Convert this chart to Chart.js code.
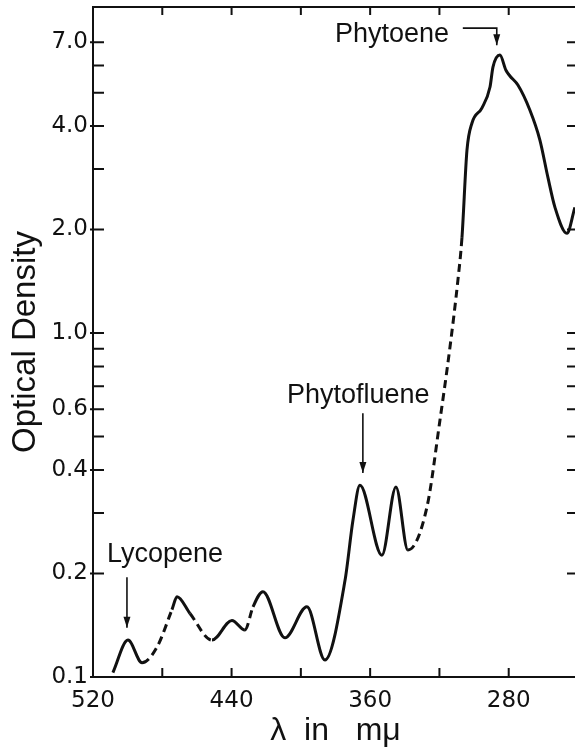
<!DOCTYPE html>
<html lang="en">
<head>
<meta charset="UTF-8">
<title>Optical Density</title>
<script src="https://cdn.jsdelivr.net/npm/chart.js"></script>
<style>
  html, body { margin: 0; padding: 0; background: #fff; }
  #wrap { width: 575px; height: 747px; overflow: hidden; }
</style>
</head>
<body>
<div id="wrap"><canvas id="spectrum" width="582" height="747"></canvas></div>
<script>
// absorption trace (wavelength in mμ, optical density)
const wavelengths = [508.5, 499.8, 491.7, 483.1, 474.4, 471.5, 464.0, 451.3, 439.8, 432.3,
  427.6, 421.9, 409.2, 396.5, 386.1, 374.5, 369.9, 365.9, 353.2, 345.1,
  338.2, 327.2, 319.7, 313.9, 309.3, 307.0, 304.1, 301.2, 295.5, 290.8,
  289.1, 285.1, 281.6, 279.3, 274.7, 267.8, 262.0, 257.4, 253.3, 246.4, 241.8];
const density = [0.103, 0.128, 0.110, 0.122, 0.157, 0.171, 0.153, 0.128, 0.146, 0.137,
  0.160, 0.177, 0.130, 0.160, 0.112, 0.191, 0.286, 0.361, 0.226, 0.357,
  0.234, 0.312, 0.558, 0.911, 1.43, 1.89, 3.40, 4.08, 4.51, 5.19,
  5.93, 6.43, 5.81, 5.59, 5.26, 4.45, 3.64, 2.84, 2.32, 1.95, 2.32];

const xTicks = [520, 480, 440, 400, 360, 320, 280, 240];
const xLabeled = [520, 440, 360, 280];
const yTicks = [0.1, 0.2, 0.3, 0.4, 0.5, 0.6, 0.7, 0.8, 0.9, 1, 2, 3, 4, 5, 6, 7];
const yLabeled = [0.1, 0.2, 0.4, 0.6, 1, 2, 4, 7];

// parts of the trace drawn dashed (from, to in mμ)
const dashedRanges = [[491.7, 474.4], [464.0, 451.3], [432.3, 427.6], [338.2, 307.0]];

const ink = '#111';

// labels and arrows, placed in data coordinates
const notes = [
  { label: 'Lycopene', at: [511.9, 0.216], path: [[500.4, 0.195], [500.4, 0.139]] },
  { label: 'Phytofluene', at: [408.0, 0.626], path: [[364.2, 0.585], [364.2, 0.392]] },
  { label: 'Phytoene', at: [380.3, 7.02], path: [[306.5, 7.70], [286.9, 7.70], [286.9, 6.87]] }
];

function isDashed(i0, i1) {
  const mid = (wavelengths[i0] + wavelengths[i1]) / 2;
  return dashedRanges.some(([a, b]) => mid <= a && mid >= b);
}

const marks = {
  id: 'marks',
  afterDatasetsDraw(chart) {
    const { ctx, chartArea: a, scales: { x, y } } = chart;
    ctx.save();
    ctx.strokeStyle = ink;
    ctx.fillStyle = ink;
    ctx.lineWidth = 2;
    ctx.strokeRect(a.left, a.top, a.right - a.left, a.bottom - a.top);

    ctx.beginPath();
    xTicks.forEach(v => {
      const px = x.getPixelForValue(v);
      ctx.moveTo(px, a.bottom); ctx.lineTo(px, a.bottom - 9);
      ctx.moveTo(px, a.top); ctx.lineTo(px, a.top + 8);
    });
    yTicks.forEach(v => {
      const py = y.getPixelForValue(v);
      const out = yLabeled.includes(v) ? 3 : 0;
      ctx.moveTo(a.left - out, py); ctx.lineTo(a.left + 11, py);
      ctx.moveTo(a.right, py); ctx.lineTo(a.right - 11, py);
    });
    ctx.stroke();

    ctx.font = '27px "Liberation Sans"';
    ctx.textBaseline = 'alphabetic';
    ctx.textAlign = 'left';
    ctx.lineWidth = 1.6;
    notes.forEach(n => {
      ctx.fillText(n.label, x.getPixelForValue(n.at[0]), y.getPixelForValue(n.at[1]));
      const pts = n.path.map(p => [x.getPixelForValue(p[0]), y.getPixelForValue(p[1])]);
      ctx.beginPath();
      pts.forEach((p, i) => i ? ctx.lineTo(p[0], p[1]) : ctx.moveTo(p[0], p[1]));
      ctx.stroke();
      const [p0, p1] = pts.slice(-2);
      const ang = Math.atan2(p1[1] - p0[1], p1[0] - p0[0]);
      ctx.save();
      ctx.translate(p1[0], p1[1]);
      ctx.rotate(ang);
      ctx.beginPath();
      ctx.moveTo(0, 0); ctx.lineTo(-11, -3.5); ctx.lineTo(-11, 3.5); ctx.closePath();
      ctx.fill();
      ctx.restore();
    });
    ctx.restore();
  }
};

new Chart(document.getElementById('spectrum'), {
  type: 'line',
  data: {
    datasets: [{
      data: wavelengths.map((w, i) => ({ x: w, y: density[i] })),
      borderColor: ink,
      borderWidth: 3,
      pointRadius: 0,
      cubicInterpolationMode: 'monotone',
      segment: {
        borderDash: c => isDashed(c.p0DataIndex, c.p1DataIndex) ? [8, 5] : undefined
      }
    }]
  },
  options: {
    responsive: false,
    animation: false,
    devicePixelRatio: 1,
    layout: { padding: { top: 7, right: 4, left: 0, bottom: 0 } },
    plugins: { legend: { display: false }, tooltip: { enabled: false } },
    scales: {
      x: {
        type: 'linear',
        reverse: true,
        min: 240,
        max: 520,
        grid: { display: false, drawTicks: false },
        border: { display: false },
        afterBuildTicks: s => { s.ticks = xTicks.map(v => ({ value: v })); },
        afterFit: s => { s.height = 70; s.paddingLeft = 0; s.paddingRight = 0; },
        ticks: {
          autoSkip: false, maxRotation: 0, padding: 10, color: ink,
          font: { family: 'DejaVu Sans', size: 23 },
          callback: v => xLabeled.includes(v) ? String(v) : ''
        },
        title: {
          display: true, text: 'λ  in   mμ', color: ink,
          font: { family: 'Liberation Sans', size: 32, lineHeight: 1 },
          padding: { top: 0, bottom: 0 }
        }
      },
      y: {
        type: 'logarithmic',
        min: 0.1,
        max: 8.87,
        grid: { display: false, drawTicks: false },
        border: { display: false },
        afterBuildTicks: s => { s.ticks = yTicks.map(v => ({ value: v })); },
        afterFit: s => { s.width = 93; s.paddingTop = 0; s.paddingBottom = 0; },
        ticks: {
          autoSkip: false, padding: 5, color: ink,
          font: { family: 'DejaVu Sans', size: 23 },
          callback: v => yLabeled.includes(v) ? v.toFixed(1) : ''
        },
        title: {
          display: true, text: 'Optical Density', color: ink,
          font: { family: 'Liberation Sans', size: 33, lineHeight: 1 },
          padding: { top: 9, bottom: 0 }
        }
      }
    }
  },
  plugins: [marks]
});
</script>
</body>
</html>
